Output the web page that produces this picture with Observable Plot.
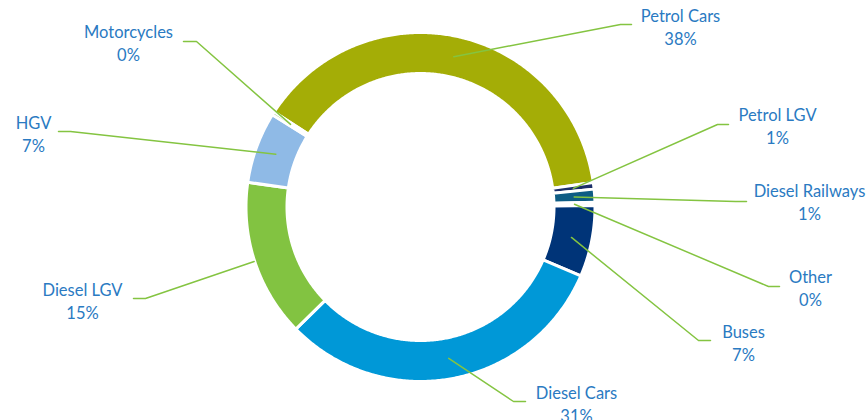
<!DOCTYPE html>
<html>
<head>
<meta charset="utf-8">
<script src="https://cdn.jsdelivr.net/npm/d3@7"></script>
<script src="https://cdn.jsdelivr.net/npm/@observablehq/plot@0.6"></script>
<style>
  html, body { margin: 0; padding: 0; background: #ffffff; }
  #chart svg { display: block; }
</style>
</head>
<body>
<div id="chart"></div>
<script>
// ---- data ----
const categories = ["Petrol Cars", "Petrol LGV", "Diesel Railways", "Other", "Buses", "Diesel Cars", "Diesel LGV", "HGV", "Motorcycles"];
const shares = [38.6, 0.6, 1.2, 0.3, 6.6, 31.2, 14.6, 6.6, 0.3];
const pctLabels = ["38%", "1%", "1%", "0%", "7%", "31%", "15%", "7%", "0%"];

// ---- styles ----
const sliceColors = ["#A4AD06", "#1C2F6A", "#0E5C84", "#B5D39A", "#003478", "#0098D7", "#82C341", "#8FBAE6", "#5E9A2E"];
const textColor = "#2A7AC2";
const leaderColor = "#84C441";

// ---- layout ----
const W = 868, H = 420;
const cx = 420, cy = 206.5, rOuter = 174.5, rInner = 133.5;
const startAngle = 303; // degrees, clockwise from 12 o'clock
// label block centre, leader elbow, leader end, leader start radius
const labelX = [680, 777, 809, 810, 743, 576, 82, 33, 128];
const labelY = [26, 125, 201, 287, 342, 403, 300, 133, 42];
const elbowX = [620, 717, 735, 768, 698, 513, 145, 70, 196];
const elbowY = [24, 124, 201, 286, 340, 401, 298, 131, 41];
const endX = [631, 728, 746, 779, 710, 525, 133, 58, 183];
const endY = [24, 124, 201, 286, 340, 401, 298, 131, 41];
const leaderR = [154, 154, 154, 154, 154, 154, 175, 154, 154];

const total = d3.sum(shares);
const rad = (deg) => deg * Math.PI / 180;
const px = (a, r) => cx + r * Math.sin(rad(a));
const py = (a, r) => cy - r * Math.cos(rad(a));

let acc = 0;
const slices = categories.map((c, i) => {
  const a0 = startAngle + acc / total * 360;
  acc += shares[i];
  const a1 = startAngle + acc / total * 360;
  return {cat: c, a0, a1, mid: (a0 + a1) / 2, color: sliceColors[i]};
});

function slicePolygon(s) {
  const n = Math.max(2, Math.ceil((s.a1 - s.a0) / 0.5));
  const pts = [];
  for (let k = 0; k <= n; k++) {
    const a = s.a0 + (s.a1 - s.a0) * k / n;
    pts.push({x: px(a, rOuter), y: py(a, rOuter)});
  }
  for (let k = n; k >= 0; k--) {
    const a = s.a0 + (s.a1 - s.a0) * k / n;
    pts.push({x: px(a, rInner), y: py(a, rInner)});
  }
  return pts;
}

const leaderRows = [];
slices.forEach((s, i) => {
  leaderRows.push({cat: s.cat, x: px(s.mid, leaderR[i]), y: py(s.mid, leaderR[i])});
  leaderRows.push({cat: s.cat, x: elbowX[i], y: elbowY[i]});
  leaderRows.push({cat: s.cat, x: endX[i], y: endY[i]});
});

const labelRows = categories.map((c, i) => ({x: labelX[i], y: labelY[i], text: c + "\n" + pctLabels[i]}));

const sliceMarks = slices.map((s) =>
  Plot.line(slicePolygon(s), {x: "x", y: "y", fill: s.color, stroke: "#ffffff", strokeWidth: 3, curve: "linear-closed"})
);

const chart = Plot.plot({
  width: W,
  height: H,
  margin: 0,
  style: {background: "#ffffff", overflow: "visible"},
  x: {domain: [0, W], range: [0, W], axis: null},
  y: {domain: [0, H], range: [0, H], axis: null},
  marks: [
    ...sliceMarks,
    Plot.line(leaderRows, {x: "x", y: "y", z: "cat", stroke: leaderColor, strokeWidth: 1.5, curve: "linear"}),
    Plot.text(labelRows, {x: "x", y: "y", text: "text", fill: textColor, fontSize: 16.5, fontFamily: "Lato, 'Open Sans', sans-serif", lineHeight: 1.36, textAnchor: "middle", lineAnchor: "middle"})
  ]
});
document.getElementById("chart").appendChild(chart);
</script>
</body>
</html>
